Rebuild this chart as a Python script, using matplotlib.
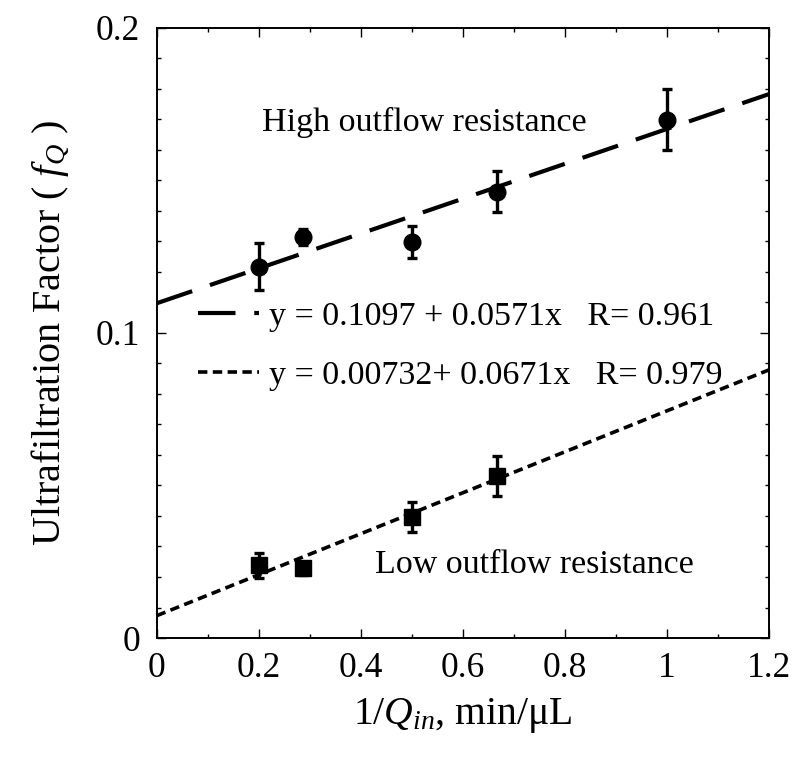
import matplotlib
matplotlib.use("Agg")
import matplotlib.pyplot as plt
import numpy as np
from matplotlib.ticker import MultipleLocator

# ---------------------------------------------------------------------------
# Data
# ---------------------------------------------------------------------------
inv_q = [0.2, 0.286, 0.5, 0.667, 1.0]          # 1/Q_in, min/uL

high_f = [0.1217, 0.1314, 0.1299, 0.1463, 0.1698]
high_err = [0.0078, 0.0025, 0.0052, 0.0068, 0.0100]

low_f = [0.0239, 0.0228, 0.0396, 0.0531]
low_err = [0.0041, 0.0020, 0.0050, 0.0067]
low_x = inv_q[:4]

# linear fits (intercept, slope, R)
high_fit = (0.1097, 0.0571, 0.961)
low_fit = (0.00732, 0.0671, 0.979)

x_fit = [0.0, 1.2]

# ---------------------------------------------------------------------------
# Style
# ---------------------------------------------------------------------------
plt.rcParams["font.family"] = ["Liberation Serif", "DejaVu Serif"]
plt.rcParams["mathtext.fontset"] = "custom"
plt.rcParams["mathtext.rm"] = "Liberation Serif"
plt.rcParams["mathtext.it"] = "Liberation Serif:italic"

fig = plt.figure(figsize=(7.97, 7.62), dpi=100)
ax = fig.add_axes([0.1966, 0.1627, 0.7679, 0.8009])

# fit lines
xf = np.array(x_fit)
ax.plot(xf, high_fit[0] + high_fit[1] * xf, color="black", lw=3.0,
        dashes=(9, 4.5), label="y = 0.1097 + 0.0571x   R= 0.961")
ax.plot(xf, low_fit[0] + low_fit[1] * xf, color="black", lw=2.6,
        dashes=(2.6, 1.5), label="y = 0.00732+ 0.0671x   R= 0.979")

# data with error bars
ax.errorbar(inv_q, high_f, yerr=high_err, fmt="o", color="black",
            ms=12, elinewidth=2.4, capsize=3.6, capthick=2.4)
ax.errorbar(low_x, low_f, yerr=low_err, fmt="s", color="black",
            ms=12, elinewidth=2.4, capsize=3.6, capthick=2.4)

ax.text(0.2065, 0.1689, "High outflow resistance", fontsize=24.5,
        va="center", ha="left")
ax.text(0.429, 0.0239, "Low outflow resistance", fontsize=24.5,
        va="center", ha="left")

ax.legend(loc="upper left", bbox_to_anchor=(0.045, 0.575), frameon=False,
          fontsize=24.5, handlelength=1.8, handletextpad=0.3,
          labelspacing=0.85, borderaxespad=0)

ax.set_xlim(0, 1.2)
ax.set_ylim(0, 0.2)
ax.xaxis.set_major_locator(MultipleLocator(0.2))
ax.xaxis.set_minor_locator(MultipleLocator(0.1))
ax.yaxis.set_major_locator(MultipleLocator(0.1))
ax.yaxis.set_minor_locator(MultipleLocator(0.01))
ax.set_xticks([0, 0.2, 0.4, 0.6, 0.8, 1.0, 1.2])
ax.set_xticklabels(["0", "0.2", "0.4", "0.6", "0.8", "1", "1.2"])
ax.set_yticks([0, 0.1, 0.2])
ax.set_yticklabels(["0", "0.1", "0.2"])

ax.tick_params(which="both", direction="in", top=True, right=True,
               labelsize=25.5, width=1.0)
ax.tick_params(axis="x", which="major", length=6.5, pad=10)
ax.tick_params(axis="y", which="major", length=6.5, pad=12)
ax.tick_params(which="minor", length=3.2)
for sp in ax.spines.values():
    sp.set_linewidth(1.4)

ax.set_xlabel(r"1/$Q_{in}$, min/μL", fontsize=28.5, labelpad=8)
ax.set_ylabel(r"Ultrafiltration Factor ( $f_{Q}$ )", fontsize=29, labelpad=17)

plt.savefig("out.png", dpi=100)
plt.close()
